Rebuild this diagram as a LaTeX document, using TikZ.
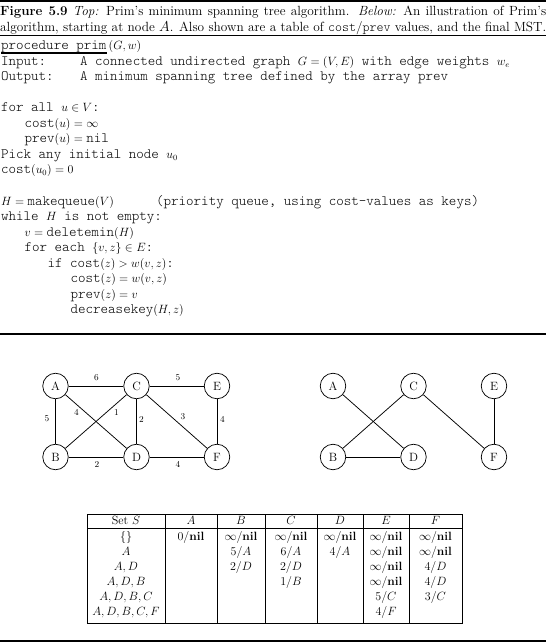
\documentclass[tikz,border=0pt]{standalone}
\usepackage{fontspec}
\newfontfamily\codett{lmmonolt10-regular.otf}
\newcommand\cw[1]{{\fontsize{14.3}{15}\selectfont\codett #1}}
\newcommand\inil{$\infty/$\textbf{nil}}
\tikzset{
  captext/.style={anchor=base west,inner sep=0pt,font=\fontsize{13.3}{15}\selectfont},
  codeline/.style={anchor=base west,inner sep=0pt,font=\fontsize{12}{14}\selectfont},
  vert/.style={circle,draw,line width=0.75pt,minimum size=25.5pt,inner sep=0pt,font=\fontsize{12}{14}\selectfont},
  wt/.style={inner sep=0pt,font=\fontsize{9}{10}\selectfont},
  edgeline/.style={line width=0.75pt},
  cell/.style={inner sep=0pt,text height=8.5pt,text depth=2.5pt,font=\fontsize{12}{13}\selectfont},
  rulethick/.style={line width=2.4pt},
  tline/.style={line width=0.8pt}
}
\begin{document}
\begin{tikzpicture}[x=1pt,y=-1pt]
\useasboundingbox (0,0) rectangle (546,644);
% rules
\draw[line width=2pt] (0,1) -- (546,1);
\node[captext] (cap1) at (0,16) {\makebox[546pt][s]{\textbf{Figure 5.9} \textit{Top:} Prim's minimum spanning tree algorithm. \textit{Below:} An illustration of Prim's}};
\node[captext] (cap2) at (0,31.5) {\makebox[546pt][s]{algorithm, starting at node $A$. Also shown are a table of {\codett cost}/{\codett prev} values, and the final MST.}};
\draw[line width=0.8pt] (0,35.8) -- (546,35.8);
% code
\node[codeline] (proc) at (1,50) {\cw{procedure prim}};
\node[codeline,anchor=base west] (procarg) at (proc.base east) {\,$(G,w)$};
\draw[line width=1.1pt] ([yshift=-3pt]proc.base west) -- ([yshift=-3pt]proc.base east);
\node[codeline] (in1) at (1,65.5) {\cw{Input:}};
\node[codeline] (in2) at (80,65.5) {\cw{A connected undirected graph }$G=(V,E)$\cw{ with edge weights }$w_e$};
\node[codeline] (out1) at (1,81) {\cw{Output:}};
\node[codeline] (out2) at (80,81) {\cw{A minimum spanning tree defined by the array prev}};
\node[codeline] (l4) at (1,112) {\cw{for all }$u\in V$\cw{:}};
\node[codeline] (l5) at (24.5,127.5) {\cw{cost}$(u)=\infty$};
\node[codeline] (l6) at (24.5,143) {\cw{prev}$(u)={}$\cw{nil}};
\node[codeline] (l7) at (1,158.5) {\cw{Pick any initial node }$u_0$};
\node[codeline] (l8) at (1,174) {\cw{cost}$(u_0)=0$};
\node[codeline] (l10) at (1,205) {$H={}$\cw{makequeue}$(V)$};
\node[codeline] (l10b) at (156,205) {\cw{(priority queue, using cost-values as keys)}};
\node[codeline] (l11) at (1,220.5) {\cw{while }$H$\cw{ is not empty:}};
\node[codeline] (l12) at (24.5,236) {$v={}$\cw{deletemin}$(H)$};
\node[codeline] (l13) at (24.5,251.5) {\cw{for each }$\{v,z\}\in E$\cw{:}};
\node[codeline] (l14) at (47.5,267) {\cw{if cost}$(z)>w(v,z)$\cw{:}};
\node[codeline] (l15) at (70.5,282.5) {\cw{cost}$(z)=w(v,z)$};
\node[codeline] (l16) at (70.5,298) {\cw{prev}$(z)=v$};
\node[codeline] (l17) at (70.5,313.5) {\cw{decreasekey}$(H,z)$};
\draw[rulethick] (0,334) -- (546,334);
% left graph
\node[vert] (A) at (55.5,386) {A};
\node[vert] (C) at (136.5,386) {C};
\node[vert] (E) at (217,386) {E};
\node[vert] (B) at (55.5,457) {B};
\node[vert] (D) at (136.5,457) {D};
\node[vert] (F) at (217,457) {F};
\draw[edgeline] (A) -- (C);
\draw[edgeline] (C) -- (E);
\draw[edgeline] (A) -- (B);
\draw[edgeline] (A) -- (D);
\draw[edgeline] (B) -- (C);
\draw[edgeline] (C) -- (D);
\draw[edgeline] (C) -- (F);
\draw[edgeline] (E) -- (F);
\draw[edgeline] (B) -- (D);
\draw[edgeline] (D) -- (F);
\node[wt] (wAC) at (96.5,377.5) {6};
\node[wt] (wCE) at (178,377.5) {5};
\node[wt] (wAB) at (47,419) {5};
\node[wt] (wAD) at (76.5,412.5) {4};
\node[wt] (wBC) at (116.5,412.5) {1};
\node[wt] (wCD) at (141.5,419) {2};
\node[wt] (wCF) at (183,417) {3};
\node[wt] (wEF) at (222.5,419) {4};
\node[wt] (wBD) at (97,464) {2};
\node[wt] (wDF) at (178,464) {4};
% right graph (MST)
\node[vert] (A2) at (333,386) {A};
\node[vert] (C2) at (413.5,386) {C};
\node[vert] (E2) at (494,386) {E};
\node[vert] (B2) at (333,457) {B};
\node[vert] (D2) at (413.5,457) {D};
\node[vert] (F2) at (494,457) {F};
\draw[edgeline] (A2) -- (D2);
\draw[edgeline] (B2) -- (C2);
\draw[edgeline] (B2) -- (D2);
\draw[edgeline] (C2) -- (F2);
\draw[edgeline] (E2) -- (F2);
% table
\draw[tline] (87,514) rectangle (462,623);
\draw[line width=1.2pt] (87,528.5) -- (462,528.5);
\foreach \x in {165,217,265,317,363,409} \draw[tline] (\x,514) -- (\x,623);
% header
\node[cell] (hS) at (126,521.5) {Set $S$};
\node[cell] (hA) at (191,521.5) {$A$};
\node[cell] (hB) at (241,521.5) {$B$};
\node[cell] (hC) at (291,521.5) {$C$};
\node[cell] (hD) at (340,521.5) {$D$};
\node[cell] (hE) at (386,521.5) {$E$};
\node[cell] (hF) at (435.5,521.5) {$F$};
% row 1
\node[cell] (s1) at (126,537) {$\{\}$};
\node[cell] (a1) at (191,537) {$0/$\textbf{nil}};
\node[cell] (b1) at (241,537) {\inil};
\node[cell] (c1) at (291,537) {\inil};
\node[cell] (d1) at (340,537) {\inil};
\node[cell] (e1) at (386,537) {\inil};
\node[cell] (f1) at (435.5,537) {\inil};
% row 2
\node[cell] (s2) at (126,552) {$A$};
\node[cell] (b2) at (241,552) {$5/A$};
\node[cell] (c2) at (291,552) {$6/A$};
\node[cell] (d2) at (340,552) {$4/A$};
\node[cell] (e2) at (386,552) {\inil};
\node[cell] (f2) at (435.5,552) {\inil};
% row 3
\node[cell] (s3) at (126,567) {$A,D$};
\node[cell] (b3) at (241,567) {$2/D$};
\node[cell] (c3) at (291,567) {$2/D$};
\node[cell] (e3) at (386,567) {\inil};
\node[cell] (f3) at (435.5,567) {$4/D$};
% row 4
\node[cell] (s4) at (126,582) {$A,D,B$};
\node[cell] (c4) at (291,582) {$1/B$};
\node[cell] (e4) at (386,582) {\inil};
\node[cell] (f4) at (435.5,582) {$4/D$};
% row 5
\node[cell] (s5) at (126,597) {$A,D,B,C$};
\node[cell] (e5) at (386,597) {$5/C$};
\node[cell] (f5) at (435.5,597) {$3/C$};
% row 6
\node[cell] (s6) at (126,612) {$A,D,B,C,F$};
\node[cell] (e6) at (386,612) {$4/F$};
\draw[rulethick] (0,641) -- (546,641);
\end{tikzpicture}
\end{document}
